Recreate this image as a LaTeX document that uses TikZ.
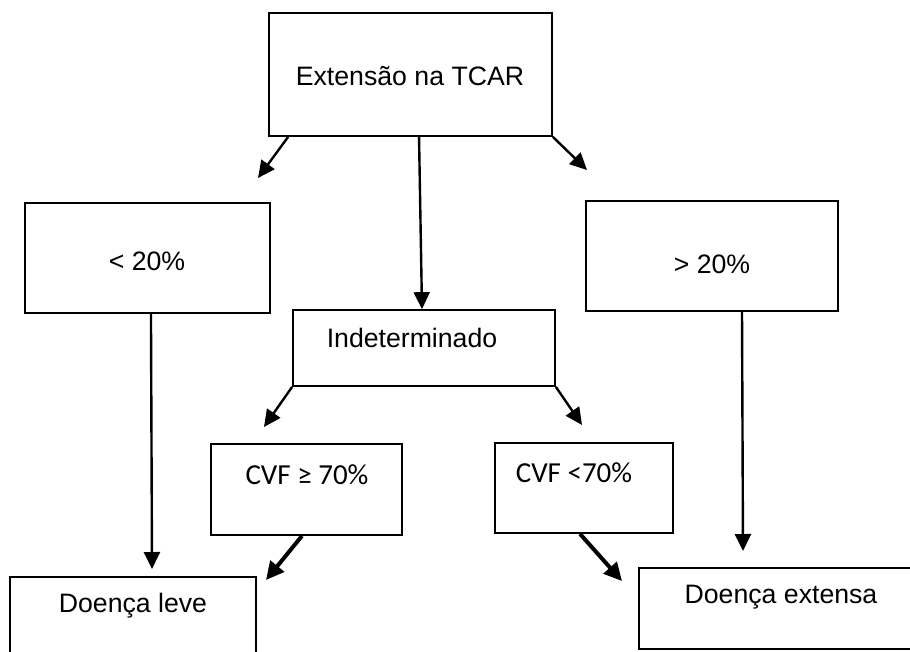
\documentclass[tikz,border=0pt]{standalone}
\usepackage{fontspec}
\setmainfont{Liberation Sans}
\newfontfamily\cvffont{Carlito}
\usepackage{tikz}
\usetikzlibrary{arrows.meta}
\tikzset{every picture/.style={line width=0.75pt}}
\tikzset{
  box/.style={draw, rectangle, line width=1.3pt, inner sep=0pt},
  txt/.style={anchor=base, inner sep=0pt, font=\fontsize{20}{24}\selectfont},
  cvftxt/.style={anchor=base, inner sep=0pt, font=\cvffont\fontsize{21.75}{26}\selectfont},
  arr/.style={-{Triangle[length=12.75pt,width=12pt]}, line width=1.8pt},
  thickarr/.style={-{Triangle[length=13.5pt,width=13pt]}, line width=3pt}
}

\begin{document}
\begin{tikzpicture}[x=0.75pt,y=0.75pt,yscale=-1,xscale=1]
\path[use as bounding box, fill=white] (0,0) rectangle (910,651);
\clip (0,0) rectangle (910,651);

%Boxes
\node[box, minimum width=212.25pt, minimum height=92.25pt] (tcar) at (410.5,74.5) {};
\node[box, minimum width=183.75pt, minimum height=82.5pt] (lt20) at (147.5,258) {};
\node[box, minimum width=189pt, minimum height=82.5pt] (gt20) at (712,256) {};
\node[box, minimum width=196.5pt, minimum height=57pt] (ind) at (424,348) {};
\node[box, minimum width=143.25pt, minimum height=68.25pt] (cvfge) at (306.5,489.5) {};
\node[box, minimum width=133.5pt, minimum height=67.5pt] (cvflt) at (584,488) {};
\node[box, minimum width=184.5pt, minimum height=77.25pt] (leve) at (133,628.5) {};
\node[box, minimum width=207pt, minimum height=60.75pt] (extensa) at (777,608.5) {};

% Text Node
\node[txt] (tcartxt) at (410,85) {Extensão na TCAR};
% Text Node
\node[txt] (lt20txt) at (147,270) {< 20\%};
% Text Node
\node[txt] (gt20txt) at (712,273) {> 20\%};
% Text Node
\node[txt] (indtxt) at (412,347) {Indeterminado};
% Text Node
\node[cvftxt] (cvfgetxt) at (307,484) {CVF ≥ 70\%};
% Text Node
\node[cvftxt] (cvflttxt) at (574,482) {CVF <70\%};
% Text Node
\node[txt] (levetxt) at (133,612) {Doença leve};
% Text Node
\node[txt] (extensatxt) at (781,603) {Doença extensa};

%Arrow ends
\coordinate (lt20tip) at (258,178);
\coordinate (gt20tip) at (587,170);
\coordinate (levetip) at (152,569);
\coordinate (exttip) at (743,551);
\coordinate (cvfgetip) at (264,427);
\coordinate (cvflttip) at (582,425);
\coordinate (levetip2) at (266,580);
\coordinate (exttip2) at (622,581);

%Straight Lines
\draw[arr] ([xshift=15pt]tcar.south west) -- (lt20tip);
\draw[arr] (tcar.south east) -- (gt20tip);
\draw[arr] ([xshift=6.4pt]tcar.south) -- ([xshift=-1.5pt]ind.north);
\draw[arr] ([xshift=2.6pt]lt20.south) -- (levetip);
\draw[arr] ([xshift=22.5pt]gt20.south) -- (exttip);
\draw[arr] (ind.south west) -- (cvfgetip);
\draw[arr] (ind.south east) -- (cvflttip);
\draw[thickarr] ([xshift=-3.4pt]cvfge.south) -- (levetip2);
\draw[thickarr] ([xshift=-3pt]cvflt.south) -- (exttip2);
\end{tikzpicture}
\end{document}
